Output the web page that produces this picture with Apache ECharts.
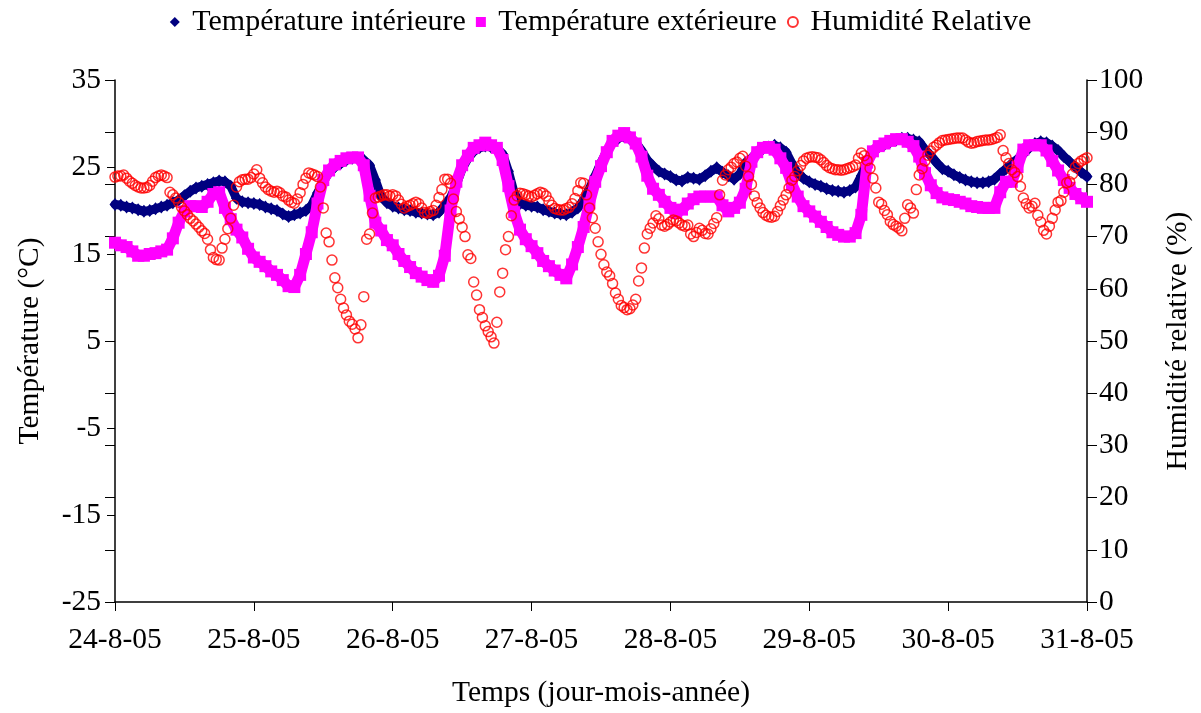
<!DOCTYPE html>
<html>
<head>
<meta charset="utf-8">
<script src="https://cdn.jsdelivr.net/npm/echarts@6/dist/echarts.min.js"></script>
<style>
html,body{margin:0;padding:0;background:#fff;}
#chart{width:1201px;height:713px;}
</style>
</head>
<body>
<div id="chart"></div>
<script>
// x ticks: one per day (hours from start 24-8-05 00:00)
const dayLabels = ['24-8-05','25-8-05','26-8-05','27-8-05','28-8-05','29-8-05','30-8-05','31-8-05'];
const seriesNames = ['Température intérieure','Température extérieure','Humidité Relative'];

// temperatures, hourly readings, hour 0 .. 168
const tInt = [
20.7,20.6,20.4,20.3,20.1,19.9,20.0,20.2,20.4,20.6,
20.9,21.2,21.7,22.2,22.6,22.8,23.0,23.2,23.4,23.3,
22.8,21.4,21.0,20.9,20.8,20.7,20.4,20.2,20.0,19.6,
19.3,19.5,19.7,20.0,20.6,22.0,23.3,24.4,25.0,25.4,
25.8,26.0,26.0,25.8,25.2,23.5,21.6,20.9,20.5,20.3,
20.1,20.0,19.8,19.7,19.6,19.5,19.8,20.6,21.5,23.0,
24.8,26.0,26.8,27.2,27.4,27.3,27.0,26.5,24.5,22.0,
20.8,20.6,20.5,20.4,20.1,19.9,19.7,19.6,19.5,19.8,
20.3,21.2,22.5,24.0,25.5,26.8,27.8,28.3,28.5,28.2,
27.8,26.9,25.8,25.1,24.5,24.2,23.9,23.5,23.4,23.8,
23.7,23.6,24.0,24.5,24.9,24.4,24.0,23.6,24.2,25.5,
26.0,26.6,27.1,27.3,27.5,27.2,26.7,25.4,24.2,23.7,
23.3,23.0,22.8,22.5,22.3,22.2,22.1,22.3,22.7,24.0,
25.5,26.8,27.3,27.6,27.9,28.1,28.3,28.3,28.1,27.9,
27.0,26.3,25.5,24.8,24.5,24.1,23.8,23.5,23.3,23.2,
23.2,23.3,23.6,24.2,24.8,25.4,25.9,26.5,27.2,27.7,
27.9,27.8,27.4,26.9,26.2,25.6,25.0,24.4,23.9
];
const tExt = [
16.3,16.0,15.8,15.3,14.8,14.8,15.0,15.1,15.3,15.5,
16.8,18.6,19.9,20.5,20.5,20.4,21.0,21.9,22.1,20.3,
19.0,17.8,16.9,15.6,14.6,14.1,13.6,13.0,12.6,12.0,
11.3,11.2,12.6,15.0,17.5,20.8,23.5,24.6,25.3,25.7,
26.0,26.1,26.1,25.2,21.7,18.6,17.7,16.6,16.0,15.0,
14.2,13.5,12.8,12.4,12.0,11.8,12.5,14.8,20.0,23.3,
25.2,26.3,27.2,27.5,27.8,27.5,27.2,25.8,22.8,19.8,
17.8,16.7,15.9,15.1,14.2,13.6,13.1,12.6,12.2,13.8,
15.8,18.1,20.8,23.3,25.1,26.7,28.0,28.6,28.9,28.4,
27.7,26.2,24.0,22.5,21.8,21.0,20.3,19.7,20.1,20.8,
21.3,21.6,21.6,21.6,21.6,20.6,19.9,20.3,20.9,22.5,
25.6,26.7,27.2,27.3,27.0,26.0,24.9,23.0,21.6,20.5,
19.9,19.3,18.7,18.1,17.5,17.2,17.0,17.0,17.4,19.5,
25.5,26.8,27.4,27.7,28.0,28.2,28.2,27.9,27.4,26.2,
24.3,22.9,22.0,21.5,21.3,21.2,21.0,20.8,20.5,20.4,
20.3,20.3,20.3,22.1,23.3,23.3,25.0,27.0,27.5,27.5,
27.5,26.9,25.7,24.6,23.5,22.6,21.9,21.4,21.0
];
// relative humidity, half-hourly readings (two per hour), hour 0 .. 168
const rh = [
81.4,81.6, 81.6,81.8, 81.2,80.6, 80.2,79.8, 79.5,79.3, 79.3,79.4, 79.8,80.6, 81.3,81.6, 81.8,81.6, 81.3,78.5,
78.0,77.4, 76.6,75.6, 74.9,74.2, 73.5,73.0, 72.4,71.8, 71.1,70.6, 69.5,67.5, 66.0,65.6, 65.5,67.8, 69.5,71.5,
73.5,76.0, 79.5,80.5, 80.9,81.0, 81.0,81.3, 82.0,82.8, 81.2,80.3, 79.5,79.0, 78.7,78.5, 78.7,78.4, 77.8,77.6,
77.0,76.6, 76.4,77.2, 78.4,80.0, 81.2,82.2, 82.0,81.8, 81.5,79.5, 75.5,70.7, 69.0,65.5, 62.1,60.2, 58.0,56.3,
55.0,53.8, 53.2,52.3, 50.6,53.1, 58.5,69.5, 70.5,74.5, 77.4,77.6, 77.8,78.0, 78.0,77.8, 78.0,77.8, 77.0,76.2,
75.5,75.8, 76.0,76.3, 76.6,76.3, 75.5,74.6, 74.5,74.8, 75.0,76.0, 77.5,79.0, 81.0,81.0, 80.2,77.2, 74.8,73.4,
71.8,70.0, 66.5,65.8, 61.3,58.8, 56.0,54.5, 52.9,51.8, 50.8,49.6, 53.6,59.4, 63.0,67.5, 70.0,74.0, 77.0,77.8,
78.3,78.2, 78.0,77.8, 77.6,77.9, 78.2,78.5, 78.3,77.8, 76.8,76.0, 75.4,75.2, 75.1,75.1, 75.4,75.6, 76.3,77.3,
78.8,80.3, 80.2,78.0, 75.5,73.6, 71.6,69.0, 66.6,64.6, 63.2,62.5, 61.0,59.2, 58.0,56.8, 56.4,56.0, 56.2,56.9,
58.0,61.5, 64.0,67.8, 70.5,71.6, 72.6,74.0, 73.4,72.2, 72.0,72.3, 72.8,73.2, 73.0,72.6, 72.2,72.0, 72.2,70.5,
70.0,70.8, 71.6,71.2, 70.6,70.5, 71.5,72.5, 73.6,78.0, 80.8,81.8, 82.8,83.3, 84.0,84.3, 85.0,85.4, 83.5,81.5,
80.0,77.8, 76.5,75.5, 74.6,74.1, 73.8,73.7, 73.9,74.8, 75.9,77.0, 78.0,79.3, 80.8,81.5, 82.6,83.6, 84.5,85.0,
85.2,85.3, 85.2,85.1, 84.7,84.2, 83.6,83.2, 83.0,82.8, 82.8,82.7, 82.8,83.0, 83.2,83.4, 83.7,85.0, 86.0,85.5,
84.6,83.1, 81.2,79.3, 76.6,76.2, 75.0,74.2, 72.9,72.3, 72.0,71.6, 71.1,73.5, 76.1,75.5, 74.5,79.0, 81.8,83.0,
84.5,85.6, 86.4,87.1, 87.5,88.0, 88.4,88.5, 88.6,88.7, 88.8,88.9, 88.9,88.9, 88.5,88.1, 87.9,88.0, 88.2,88.3,
88.4,88.5, 88.5,88.6, 88.8,89.0, 89.5,86.5, 85.1,84.0, 82.8,82.3, 81.5,79.6, 77.4,76.3, 75.5,75.8, 76.4,74.1,
72.8,71.2, 70.5,72.0, 73.5,75.1, 76.6,76.9, 78.5,80.3, 80.5,82.0, 83.3,84.0, 84.5,84.8,
85.1
];

const hourlyPairs = arr => arr.map((v, i) => [i, v]);
const halfHourPairs = arr => arr.map((v, i) => [i / 2, v]);
const FONT = '"Liberation Serif", "Times New Roman", serif';
const txt = {fontFamily: FONT, fontSize: 29.5, color: '#000'};

const chart = echarts.init(document.getElementById('chart'), null, {renderer: 'canvas'});
chart.setOption({
  animation: false,
  backgroundColor: '#fff',
  textStyle: {fontFamily: FONT},
  legend: {
    top: 2, left: 'center',
    itemWidth: 10, itemHeight: 10, itemGap: 10,
    textStyle: {fontFamily: FONT, fontSize: 30, color: '#000'},
    formatter: n => ' ' + n,
    data: [
      {name: seriesNames[0], icon: 'diamond', itemStyle: {color: '#000080'}},
      {name: seriesNames[1], icon: 'rect', itemStyle: {color: '#ff00ff'}},
      {name: seriesNames[2], icon: 'emptyCircle', itemStyle: {color: '#ff0000', borderColor: '#ff0000', borderWidth: 1.5}}
    ]
  },
  grid: {left: 115, right: 114, top: 80, bottom: 111, containLabel: false},
  xAxis: {
    type: 'value', min: 0, max: 168, interval: 24,
    name: 'Temps (jour-mois-année)', nameLocation: 'middle', nameGap: 76,
    nameTextStyle: txt,
    axisLine: {show: true, onZero: false, lineStyle: {color: '#000', width: 1.5}},
    axisTick: {show: true, length: 9, lineStyle: {color: '#000'}},
    axisLabel: {margin: 23, ...txt, formatter: v => dayLabels[Math.round(v / 24)]},
    splitLine: {show: false}
  },
  yAxis: [
    {
      type: 'value', min: -25, max: 35, interval: 10, position: 'left',
      name: 'Température (°C)', nameLocation: 'middle', nameGap: 70, nameRotate: 90,
      nameTextStyle: txt,
      axisLine: {show: true, onZero: false, lineStyle: {color: '#000', width: 1.5}},
      axisTick: {show: true, length: 8, lineStyle: {color: '#000'}},
      axisLabel: {margin: 14, ...txt},
      splitLine: {show: false}
    },
    {
      type: 'value', min: 0, max: 100, interval: 10, position: 'right',
      name: 'Humidité relative (%)', nameLocation: 'middle', nameGap: 76, nameRotate: 90,
      nameTextStyle: txt,
      axisLine: {show: true, onZero: false, lineStyle: {color: '#000', width: 1.5}},
      axisTick: {show: true, length: 10, lineStyle: {color: '#000'}},
      axisLabel: {margin: 12, ...txt},
      splitLine: {show: false}
    },
    {
      type: 'value', min: 0, max: 100, interval: 10, position: 'right',
      axisLine: {show: false},
      axisTick: {show: true, inside: true, length: 10, lineStyle: {color: '#000'}},
      axisLabel: {show: false},
      splitLine: {show: false}
    }
  ],
  series: [
    {
      name: seriesNames[0], type: 'line', yAxisIndex: 0,
      symbol: 'diamond', symbolSize: [11, 13], showSymbol: true,
      lineStyle: {color: '#000080', width: 9, join: 'round', cap: 'round'},
      itemStyle: {color: '#000080'},
      data: hourlyPairs(tInt), z: 2
    },
    {
      name: seriesNames[1], type: 'line', yAxisIndex: 0,
      symbol: 'rect', symbolSize: 12, showSymbol: true,
      lineStyle: {color: '#ff00ff', width: 11, join: 'round', cap: 'round'},
      itemStyle: {color: '#ff00ff'},
      data: hourlyPairs(tExt), z: 3
    },
    {
      name: seriesNames[2], type: 'scatter', yAxisIndex: 1,
      symbol: 'circle', symbolSize: 10,
      itemStyle: {color: 'rgba(255,255,255,0)', borderColor: '#ff0000', borderWidth: 1.5},
      data: halfHourPairs(rh), z: 4
    }
  ]
});
</script>
</body>
</html>
